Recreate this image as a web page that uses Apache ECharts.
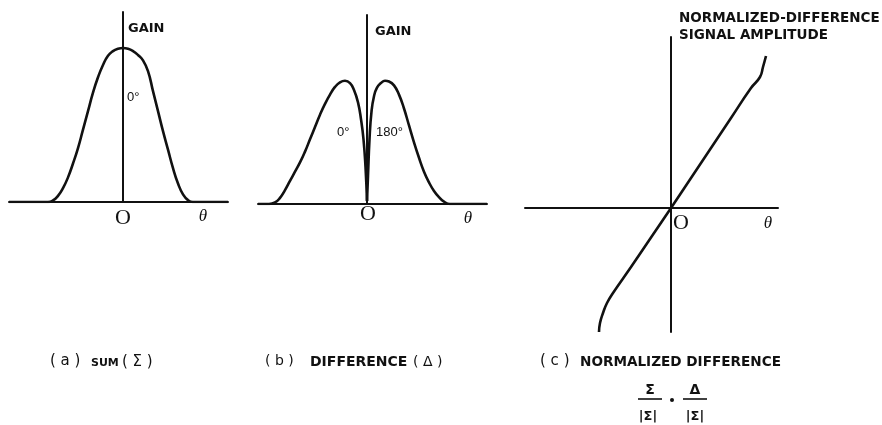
<!DOCTYPE html>
<html>
<head>
<meta charset="utf-8">
<script src="https://cdn.jsdelivr.net/npm/echarts@6/dist/echarts.min.js"></script>
<style>
html,body{margin:0;padding:0;background:#fff;}
#chart{width:882px;height:425px;}
</style>
</head>
<body>
<div id="chart"></div>
<script>
// (a) SUM pattern: theta (arbitrary units) vs gain
var sumTheta = [-11.4, -9.0, -7.5, -7.0, -6.5, -6.0, -5.5, -5.0, -4.5, -4.0, -3.5, -3.0, -2.5, -2.0, -1.5, -1.0, -0.5, 0,
                0.5, 1.0, 1.5, 2.0, 2.5, 3.0, 3.5, 4.0, 4.5, 5.0, 5.5, 6.0, 6.5, 7.0, 8.5, 10.5];
var sumGain  = [0, 0, 0, 0.01, 0.04, 0.09, 0.16, 0.25, 0.35, 0.47, 0.59, 0.71, 0.81, 0.89, 0.95, 0.98, 0.995, 1.0,
                0.995, 0.98, 0.955, 0.92, 0.85, 0.72, 0.59, 0.46, 0.34, 0.22, 0.12, 0.05, 0.012, 0, 0, 0];

// (b) DIFFERENCE pattern: left lobe (0 deg) and right lobe (180 deg)
var diffLeftTheta  = [-10.9, -9.8, -9.2, -8.7, -8.2, -7.7, -7.2, -6.7, -6.2, -5.7, -5.2, -4.7, -4.2, -3.7, -3.2, -2.7, -2.2, -1.7, -1.3, -0.9, -0.6, -0.35, -0.15, 0];
var diffLeftGain   = [0, 0, 0.01, 0.04, 0.09, 0.15, 0.21, 0.27, 0.34, 0.42, 0.50, 0.58, 0.65, 0.71, 0.76, 0.79, 0.80, 0.785, 0.74, 0.66, 0.55, 0.42, 0.24, 0.02];
var diffRightTheta = [0, 0.1, 0.25, 0.45, 0.7, 1.0, 1.4, 1.8, 2.2, 2.7, 3.2, 3.7, 4.2, 4.7, 5.2, 5.7, 6.2, 6.7, 7.2, 7.7, 8.3, 9.5, 12.0];
var diffRightGain  = [0.02, 0.18, 0.42, 0.60, 0.70, 0.755, 0.785, 0.80, 0.795, 0.77, 0.71, 0.62, 0.51, 0.40, 0.30, 0.21, 0.14, 0.085, 0.045, 0.015, 0, 0, 0];

// (c) NORMALIZED DIFFERENCE: theta vs signal amplitude
var normTheta = [-7.2, -7.1, -6.8, -6.4, -5.8, -4.0, -2.0, 0, 2.0, 4.0, 6.0, 8.0, 8.9, 9.2, 9.5];
var normAmp   = [-12.4, -11.5, -10.5, -9.5, -8.5, -5.9, -2.95, 0, 3.0, 6.0, 9.0, 12.0, 13.1, 14.1, 15.2];

function pairs(xs, ys){ return xs.map(function(x,i){ return [x, ys[i]]; }); }

var INK = '#111';
function axis(min, max, grid){
  return {
    type: 'value', gridIndex: grid, min: min, max: max,
    axisLine: {show: true, onZero: true, lineStyle: {color: INK, width: 2}},
    axisTick: {show: false}, axisLabel: {show: false}, splitLine: {show: false}
  };
}
function curve(data, xi){
  return {
    type: 'line', xAxisIndex: xi, yAxisIndex: xi, data: data,
    showSymbol: false, smooth: 0.5, animation: false, silent: true,
    lineStyle: {color: INK, width: 2.6}
  };
}
function txt(s, x, y, font, align, valign){
  return {type: 'text', x: x, y: y, silent: true,
    style: {text: s, font: font, fill: INK,
      align: align || 'left', textAlign: align || 'left',
      verticalAlign: valign || 'middle', textVerticalAlign: valign || 'middle'}};
}
function hline(x1, x2, y){
  return {type: 'line', silent: true, shape: {x1: x1, y1: y, x2: x2, y2: y},
    style: {stroke: INK, lineWidth: 1.6}};
}

var SANSB = 'DejaVu Sans';
var option = {
  backgroundColor: '#fff',
  animation: false,
  grid: [
    {left: 9,   top: 12, width: 219, height: 190},
    {left: 258, top: 15, width: 229, height: 189},
    {left: 525, top: 37, width: 253, height: 295}
  ],
  xAxis: [axis(-11.4, 10.5, 0), axis(-10.9, 12.0, 1), axis(-14.6, 10.7, 2)],
  yAxis: [axis(0, 1.234, 0), axis(0, 1.227, 1), axis(-12.4, 17.1, 2)],
  series: [
    curve(pairs(sumTheta, sumGain), 0),
    curve(pairs(diffLeftTheta, diffLeftGain), 1),
    curve(pairs(diffRightTheta, diffRightGain), 1),
    curve(pairs(normTheta, normAmp), 2)
  ],
  graphic: [
    txt('GAIN', 128, 29, 'bold 13px ' + SANSB),
    txt('0°', 127, 97, '13px Liberation Sans'),
    txt('O', 123, 218, '22px Liberation Serif', 'center'),
    txt('θ', 203, 217, 'italic 17px Liberation Serif', 'center'),

    txt('GAIN', 375, 32, 'bold 13px ' + SANSB),
    txt('0°', 337, 132, '13px Liberation Sans'),
    txt('180°', 376, 132, '13px Liberation Sans'),
    txt('O', 368, 214, '22px Liberation Serif', 'center'),
    txt('θ', 468, 219, 'italic 17px Liberation Serif', 'center'),

    txt('NORMALIZED-DIFFERENCE', 679, 18, 'bold 13.5px ' + SANSB),
    txt('SIGNAL AMPLITUDE', 679, 35, 'bold 13.5px ' + SANSB),
    txt('O', 681, 223, '22px Liberation Serif', 'center'),
    txt('θ', 768, 224, 'italic 17px Liberation Serif', 'center'),

    txt('( a )', 50, 361, '15px ' + SANSB),
    txt('SUM', 91, 363, 'bold 11px ' + SANSB),
    txt('( Σ )', 122, 362, '15px ' + SANSB),

    txt('( b )', 265, 361, '14px ' + SANSB),
    txt('DIFFERENCE', 310, 362, 'bold 14px ' + SANSB),
    txt('( Δ )', 413, 362, '14px ' + SANSB),

    txt('( c )', 540, 361, '15px ' + SANSB),
    txt('NORMALIZED DIFFERENCE', 580, 362, 'bold 13.6px ' + SANSB),

    txt('Σ', 650, 390, 'bold 14px ' + SANSB, 'center'),
    hline(638, 662, 399),
    {type: 'circle', silent: true, shape: {cx: 672, cy: 400, r: 2}, style: {fill: INK}},
    txt('Δ', 695, 390, 'bold 14px ' + SANSB, 'center'),
    hline(683, 707, 399),
    txt('|Σ|', 648, 417, 'bold 13px ' + SANSB, 'center'),
    txt('|Σ|', 695, 417, 'bold 13px ' + SANSB, 'center')
  ]
};
var chart = echarts.init(document.getElementById('chart'), null, {renderer: 'canvas'});
chart.setOption(option);
</script>
</body>
</html>
